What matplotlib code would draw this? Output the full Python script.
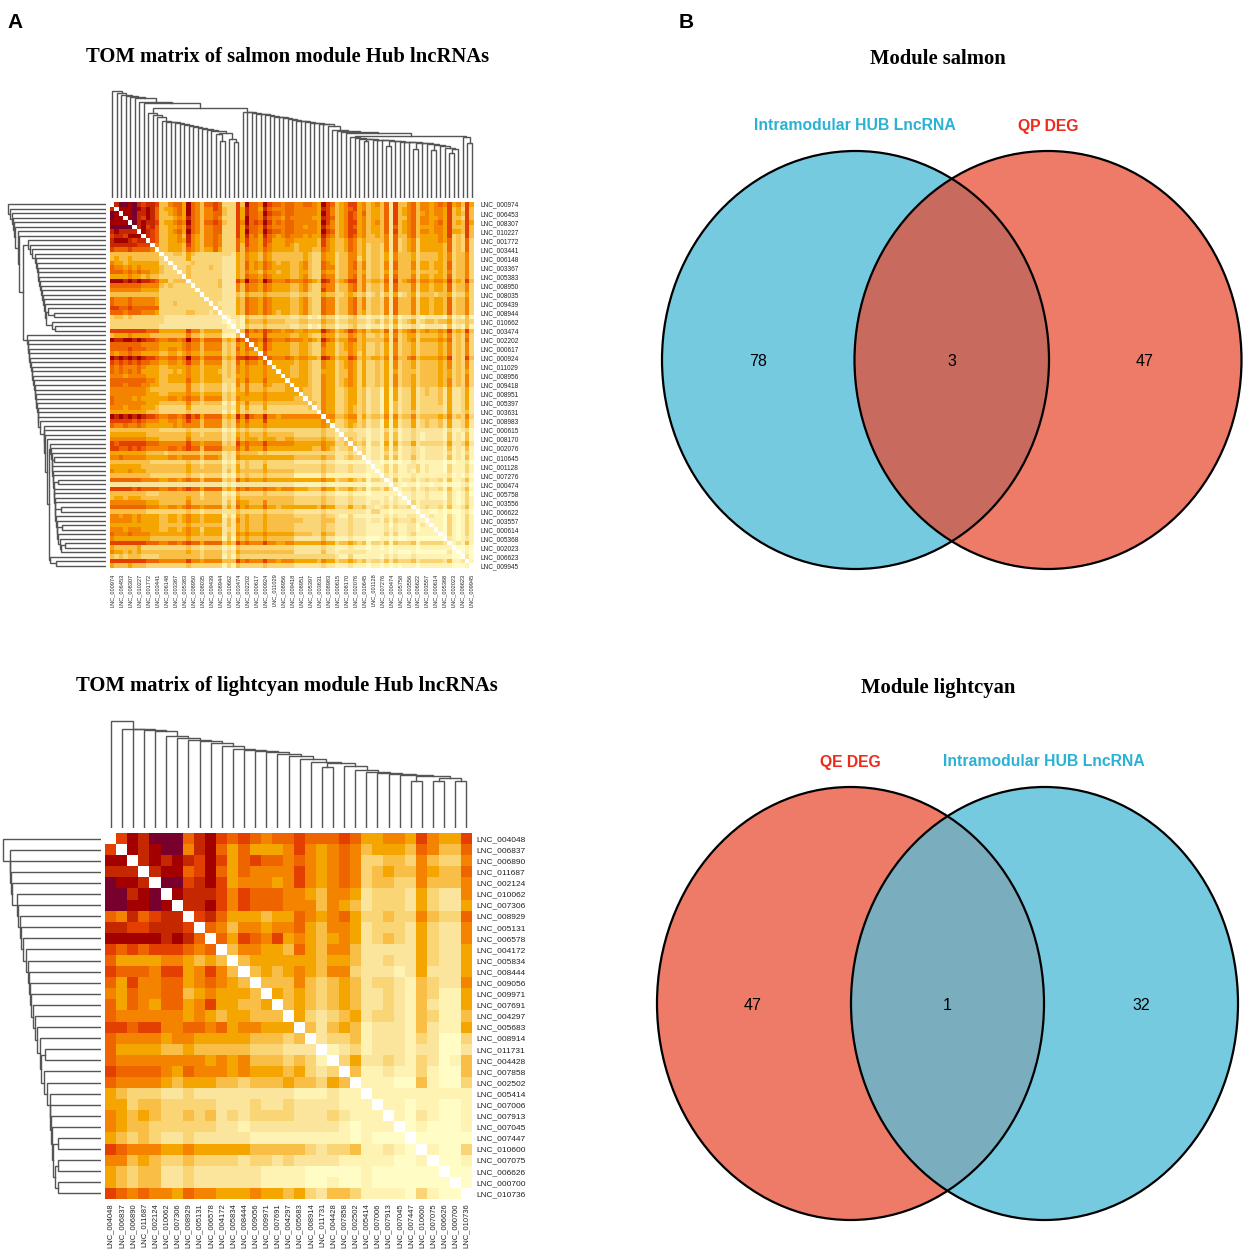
#!/usr/bin/env python3
"""TOM heatmaps of hub lncRNAs (left) + module/DEG venn diagrams (right)."""
import matplotlib; matplotlib.use("Agg")
import matplotlib.pyplot as plt
from matplotlib.colors import ListedColormap
from matplotlib.patches import Ellipse
import numpy as np

W, H = 1247, 1256

# colour steps of the TOM heatmap, light to dark, one symbol per step
STEPS = "0l123456789a"
STEP_COLORS = ["#FFFCC6", "#FEF3B3", "#FBE49C", "#F9D576", "#F8BE45", "#F5A500",
               "#F48400", "#EE6500", "#E23F00", "#C52800", "#A30000", "#78002F"]

SALMON_GENES = ["000974", "006453", "008307", "010227", "001772", "003441", "006148", "003367", "005383",
                "008950", "008035", "009439", "008944", "010662", "003474", "002202", "000617", "000924",
                "011029", "008956", "009418", "008951", "005397", "003631", "008983", "000615", "008170",
                "002076", "010645", "001128", "007276", "000474", "005758", "003556", "006622", "003557",
                "000614", "005368", "002023", "006623", "009945"]
CYAN_GENES = ["004048", "006837", "006890", "011687", "002124", "010062", "007306", "008929", "005131",
              "006578", "004172", "005834", "008444", "009056", "009971", "007691", "004297", "005683",
              "008914", "011731", "004428", "007858", "002502", "005414", "007006", "007913", "007045",
              "007447", "010600", "007075", "006626", "000700", "010736"]

# upper triangle of each symmetric matrix, row by row (spaces only group columns by tens)
SALMON_TOM = [
    "8aa9a8788 7335664965 3667622273 9665976656 6556654976 3457745345 3617335635 54565745374",
    "999a9898 6344564965 3557632274 8664865556 6555554875 3456745344 3617345635 54554734273",
    "99a8898 6334564965 3556632274 8665976656 6555554975 3457646344 3617345634 54554734373",
    "9a8798 6333454865 3556522274 9665865546 5555544876 3457645344 3617335635 54454733273",
    "a8988 7344565965 3667632275 9676975656 6555554975 3457745345 3617345635 54564734374",
    "8978 6334454865 3556622274 8665865556 6554554865 3457645344 3616345634 44554733373",
    "987 6334564965 3556622274 9665976656 6555554976 3457745344 3617345635 54554744373",
    "87 6334453854 3556522274 8564865456 5554544865 3457645334 3516335634 44454723273",
    "7 6334454854 3556522264 7554764445 5444443754 3346534333 3516234524 44454623262",
    "5334443754 3556522263 7554754445 4344443754 3346534233 2516234524 44443623262",
    "334443654 3446422263 6554654444 4344433654 3346534233 2516234524 44443623262",
    "22332432 2222222143 5443543333 3334322544 2335534233 2415333423 33343523352",
    "2222422 2222211143 5443543333 3334322544 2335524233 2415333423 33343523352",
    "222232 2222211143 6454654344 3345322654 2335635233 2516333524 43443623352",
    "22322 2232211143 6454654444 3345322655 2335635233 2516333524 43443623352",
    "2322 2222211143 5443544344 3344322544 2335534233 2415333423 33343523352",
    "322 2222211143 6554654444 3345322655 2335635233 2516333524 43443623352",
    "22 2222311175 9665975556 5556543875 3457735344 3617345635 54554734373",
    "2 2222311153 6554654444 3345322655 2335635233 2516333524 43443623352",
    "2222211153 6554654444 3345322755 2335635233 2516333524 43443623352",
    "222211132 4333433333 2233222433 2234323123 1314123413 33233412242",
    "22211143 6554654444 3345322655 2335635233 2516333524 43443623352",
    "2111143 6554654444 3345322655 2335635233 2516333524 43443623352",
    "211143 6554654444 3345322655 2335635233 2516333524 43443623352",
    "11143 6554654344 3345322655 2335634233 2516333524 43443623352",
    "l11l 3222322222 1122l1l322 l112311l11 l2l3l1121l 1111l3l1l3l",
    "l1l 4333433332 2233222433 1223322123 1314123412 33233412232",
    "1l 3222322222 1122l1l322 l112311l11 l2l3l1121l 1111l3l1l3l",
    "3 7565765545 5445444865 3457645344 3616345634 54454734373",
    "6444744444 3344322544 2335434223 2415234423 33343523252",
    "665865556 5554543865 3446634333 3516234524 44454623262",
    "54754444 3344322644 2345434223 2415233423 33343523252",
    "4754444 3344322544 2345434223 2415233423 33343523252",
    "644444 3344322544 2335424223 2415233423 33343523252",
    "65556 5455443875 3447634344 3516335634 44454723273",
    "4444 4344322544 2345424223 2415233423 33343523252",
    "444 3344322544 2345424223 2415233423 33343523252",
    "44 3344322444 2335424223 2414233323 33343423242",
    "4 3344322544 2335424223 2415233423 33343423252",
    "4444322544 2345424223 2415233423 33343523252",
    "444322544 2345424223 2415233423 33343523252",
    "43322544 2234423122 l4l4122412 32231411241",
    "3322544 2234423122 l4l4122412 32231411241",
    "322544 2234423122 l4l4122412 22231411241",
    "32544 2234423122 l4l3122412 22231411241",
    "2544 2234323122 l4l3122412 22221411241",
    "544 2234323122 l4l3122312 22221411231",
    "55 3345524233 2515233523 33343523252",
    "4 2234423122 l4l4122412 32231411241",
    "2234323122 l4l4122412 32231411241",
    "112111l11 l2l2l11211 1111l2ll12l",
    "22211l11 l3l3l1121l 1111l3l1l3l",
    "3212l11 l3l3l1121l 1111l3l1l3l",
    "323l22 l4l4122412 22221411241",
    "12l11 l3l3l1121l 1111l3l1l3l",
    "2l11 l2l2l1121l 1111l2l1l2l",
    "l11 l3l3l1131l 1111l3l1l3l",
    "ll 0l0l0ll1ll llll0l0ll10",
    "l l2l2ll112l 1lll02lll2l",
    "l2l2ll1l2l 1lll02lll2l",
    "1l1lll1ll lllll10l010",
    "l3l112l1 2112l3ll13l",
    "1l0ll0l l0ll0l00l10",
    "l112l1 2112l3ll13l",
    "ll1ll 1lll02l0l20",
    "l1ll 1lll02l0l2l",
    "2l1 1111l2l0l2l",
    "l1 2112l3ll13l",
    "l l00l0l00l10",
    "l1ll02l0l2l",
    "lll02l0l2l",
    "ll02l0l2l",
    "l02l0l2l",
    "02l0l2l",
    "1l0l1l",
    "l1l3l",
    "00l0",
    "0l0",
    "10",
    "l",
    "",
]
CYAN_TOM = [
    "798aaa6897 6765667666 7644554754 47",
    "989aa58964 6444575456 5344436533 6",
    "8989879746 7665654565 2233253225",
    "8996796465 5557545652 343354336",
    "aa78974555 4575456523 32253335",
    "9888757666 5543554122 2142115",
    "8897576665 5535431222 142114",
    "7864443446 5456422322 53226",
    "6535545564 3554122214 2115",
    "6476574543 4541232142 115",
    "3554436435 5311111421 14",
    "3444444344 3112114211 4",
    "3434543552 111l141114",
    "3335323431 221l32115",
    "4343234311 21l32ll4",
    "3432343112 1l31ll4",
    "4212341221 l32ll3",
    "31343l111l31ll4",
    "1223l111l21002",
    "l12l111l11001",
    "241121l210l3",
    "3ll1ll2l003",
    "lll003l002",
    "lllllllll",
    "ll0ll00l",
    "l01l00l",
    "0l000l",
    "00000",
    "l002",
    "00l",
    "00",
    "0",
    "",
]

# dendrogram merge heights (pixels above the leaf baseline), left to right down each comb
SALMON_COMB_TOP = [107, 104.7, 103, 102, 100.7, 99.7, 96.3, 94.7]
SALMON_JOIN = 90.3
SALMON_COMB_LEFT = [85.3, 83, 80.7, 77.3, 76.3, 75.7, 74.7, 73.7, 73, 72.3, 71.3, 70.3, 69, 68, 67]
SALMON_LEFT_TAIL = [65.3, 63.7, 57, 58.7, 55.7]
SALMON_COMB_RIGHT = [86.3, 85.7, 85, 84.3, 83.7, 83, 82, 81.3, 80.7, 79.7, 78.7, 78, 77.3, 76.7, 76.3,
                     75.3, 74.7, 74, 73.7, 72.3, 68, 67.3, 66.3, 64.7]
SALMON_SPLIT = 62.3
SALMON_COMB_LOW = [60.7, 59.7, 59, (58.7, 57), 58.5, 58, 57.7, (57, 52.3), 56.7, 56.3, 56, 55.7,
                   (55.3, 49), 54.7, 54, (53, 48), 52, 50.3]
SALMON_LOW_TAIL = [49, 45.3]
SALMON_END = [61.3, 54.7]

CYAN_COMB_TOP = [106.7, 99.3, 98.7, 97.7, 96.7, 91.7, 90, 88, 86.7, 85, 81.7, 79, 78.3, 77.3, 76, 74,
                 71.7, 69.3, 66]
CYAN_MID = [65, 61]
CYAN_COMB_LOW = [61.7, 58.3, 56, 55, 54, 53.3]
CYAN_END = [52.3, 46.7, 50, 46.7, 46.7]

# venn counts: left only, shared, right only
SALMON_VENN = [78, 3, 47]
CYAN_VENN = [47, 1, 32]

BLUE, RED = "#76CAE0", "#EE7A68"
LABEL_BLUE, LABEL_RED = "#29B2D3", "#EE2A1B"
SERIF = "Liberation Serif"; SANS = "Liberation Sans"


def tom_matrix(rows):
    n = len(rows); m = np.full((n, n), np.nan)
    for r, row in enumerate(rows):
        s = row.replace(" ", "")
        if len(s) != n - r - 1: raise ValueError(f"row {r}: {len(s)} != {n - r - 1}")
        for k, ch in enumerate(s):
            m[r, r + 1 + k] = m[r + 1 + k, r] = STEPS.index(ch)
    return m

def comb(items, tail):
    node = tail
    for it in reversed(items):
        sub = 0
        if isinstance(it, tuple): it, sub = it[0], [it[1], 0, 0]
        node = [it, sub, node] if sub else [it, 0, node]
    return node

def flatten(node, segs, counter):
    # returns (position, height) of node; leaves get the next index
    if node == 0:
        counter[0] += 1
        return counter[0] - 1, 0.0
    h, a, b = node
    xa, ha = flatten(a, segs, counter); xb, hb = flatten(b, segs, counter)
    segs.append(([xa, xa, xb, xb], [ha, h, h, hb]))
    return (xa + xb) / 2, h

def px_ax(x0, y0, x1, y1):
    return fig.add_axes([x0 / W, 1 - y1 / H, (x1 - x0) / W, (y1 - y0) / H])

def dendro_axes(segs, n, col_box, row_box, col_top, row_top):
    ax = px_ax(*col_box)
    for xs, ys in segs: ax.plot(xs, ys, color="#555555", lw=1.0, solid_joinstyle="miter")
    ax.set_xlim(-0.5, n - 0.5); ax.set_ylim(0, col_top); ax.axis("off")
    ax = px_ax(*row_box)
    for xs, ys in segs: ax.plot(ys, xs, color="#555555", lw=1.0, solid_joinstyle="miter")
    ax.set_ylim(n - 0.5, -0.5); ax.set_xlim(row_top, 0); ax.axis("off")

def heat(m, genes, step, box, row_fs, col_fs, pad_r, pad_c):
    ax = px_ax(*box)
    cmap = ListedColormap(STEP_COLORS); cmap.set_bad("white")
    ax.imshow(m, cmap=cmap, vmin=-0.5, vmax=len(STEPS) - 0.5, aspect="auto", interpolation="nearest")
    ticks = range(0, len(m), step); labels = ["LNC_" + g for g in genes]
    ax.yaxis.tick_right()
    ax.set_yticks(list(ticks)); ax.set_yticklabels(labels, fontsize=row_fs, family=SANS, color="#222222")
    ax.set_xticks(list(ticks)); ax.set_xticklabels(labels, fontsize=col_fs, family=SANS, color="#222222", rotation=90)
    ax.tick_params(length=0); ax.tick_params(axis="y", pad=pad_r); ax.tick_params(axis="x", pad=pad_c)
    for s in ax.spines.values(): s.set_visible(False)

def venn(ax, c1, c2, color1, color2, overlap, rx, ry):
    e1 = Ellipse(c1, 2 * rx, 2 * ry, fc=color1, ec="none"); e2 = Ellipse(c2, 2 * rx, 2 * ry, fc=color2, ec="none")
    ax.add_patch(e1); ax.add_patch(e2)
    mid = Ellipse(c2, 2 * rx, 2 * ry, fc=overlap, ec="none"); ax.add_patch(mid); mid.set_clip_path(e1)
    for c in (c1, c2): ax.add_patch(Ellipse(c, 2 * rx, 2 * ry, fc="none", ec="black", lw=1.6))

def label(x, y, s, **kw):
    fig.text(x / W, 1 - y / H, s, ha="center", va="center", **kw)


fig = plt.figure(figsize=(W / 100, H / 100), dpi=100)

# ===== heatmaps =====
salmon = tom_matrix(SALMON_TOM); cyan = tom_matrix(CYAN_TOM)
heat(salmon, SALMON_GENES, 2, (110, 202, 474, 568), 4.7, 4.1, 5, 4)
heat(cyan, CYAN_GENES, 1, (105, 833, 472, 1199), 6.0, 5.5, 3, 3)

# ===== dendrograms =====
left = comb(SALMON_COMB_LEFT, [SALMON_LEFT_TAIL[0], [SALMON_LEFT_TAIL[1], 0, [SALMON_LEFT_TAIL[2], 0, 0]],
                               [SALMON_LEFT_TAIL[3], 0, [SALMON_LEFT_TAIL[4], 0, 0]]])
low = comb(SALMON_COMB_LOW, [SALMON_LOW_TAIL[0], [SALMON_LOW_TAIL[1], 0, 0], 0])
end = [SALMON_END[0], 0, [SALMON_END[1], 0, 0]]
right = comb(SALMON_COMB_RIGHT, [SALMON_SPLIT, low, end])
tree = comb(SALMON_COMB_TOP, [SALMON_JOIN, left, right])
segs = []; flatten(tree, segs, [0])
dendro_axes(segs, 81, (110, 88, 474, 198), (3, 202, 106, 568), 110, 107 * 103 / 98)

tail = [CYAN_END[0], [CYAN_END[1], 0, 0], [CYAN_END[2], [CYAN_END[3], 0, 0], [CYAN_END[4], 0, 0]]]
tree = comb(CYAN_COMB_TOP, [CYAN_MID[0], [CYAN_MID[1], 0, 0], comb(CYAN_COMB_LOW, tail)])
segs = []; flatten(tree, segs, [0])
dendro_axes(segs, 33, (105, 718, 472, 828), (0, 833, 101, 1199), 110, 106.7 * 101 / 98)

# ===== venns =====
ax = px_ax(640, 0, W, H); ax.set_xlim(640, W); ax.set_ylim(H, 0); ax.axis("off")
venn(ax, (855.5, 360), (1048, 360), BLUE, RED, "#C96A5E", 193.5, 209)
venn(ax, (1044.5, 1003.5), (850.5, 1003.5), BLUE, RED, "#7AAEBE", 193.5, 216.5)
for x, v in zip((758, 952, 1145), SALMON_VENN): label(x, 361, str(v), family=SANS, fontsize=11.5)
for x, v in zip((753, 947, 1141), CYAN_VENN): label(x, 1005, str(v), family=SANS, fontsize=11.5)

# ===== text =====
label(15, 22, "A", family=SANS, weight="bold", fontsize=15)
label(686, 22, "B", family=SANS, weight="bold", fontsize=15)
label(287.5, 56.5, "TOM matrix of salmon module Hub lncRNAs", family=SERIF, weight="bold", fontsize=14.9)
label(287, 686.5, "TOM matrix of lightcyan module Hub lncRNAs", family=SERIF, weight="bold", fontsize=14.9)
label(938, 58.5, "Module salmon", family=SERIF, weight="bold", fontsize=14.9)
label(938, 687.5, "Module lightcyan", family=SERIF, weight="bold", fontsize=14.9)
label(855, 126, "Intramodular HUB LncRNA", family=SANS, weight="bold", fontsize=11.3, color=LABEL_BLUE)
label(1048, 126, "QP DEG", family=SANS, weight="bold", fontsize=11.3, color=LABEL_RED)
label(850, 762, "QE DEG", family=SANS, weight="bold", fontsize=11.3, color=LABEL_RED)
label(1044, 762, "Intramodular HUB LncRNA", family=SANS, weight="bold", fontsize=11.3, color=LABEL_BLUE)

fig.savefig("out.png", dpi=100)
print("wrote out.png")
